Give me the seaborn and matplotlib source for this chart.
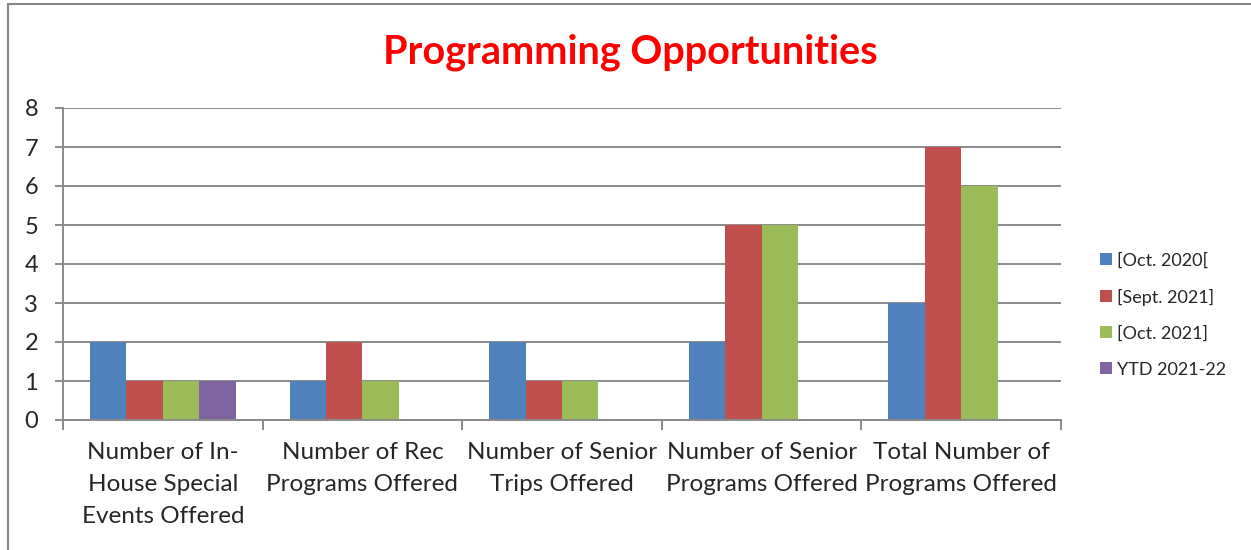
import numpy as np
import pandas as pd
import matplotlib.pyplot as plt
import seaborn as sns
from matplotlib.patches import Rectangle

categories = [
    "Number of In-\nHouse Special\nEvents Offered",
    "Number of Rec\nPrograms Offered",
    "Number of Senior\nTrips Offered",
    "Number of Senior\nPrograms Offered",
    "Total Number of\nPrograms Offered",
]
series = ["[Oct. 2020[", "[Sept. 2021]", "[Oct. 2021]", "YTD 2021-22"]
oct_2020 = [2, 1, 2, 2, 3]
sept_2021 = [1, 2, 1, 5, 7]
oct_2021 = [1, 1, 1, 5, 6]
ytd_2021_22 = [1, np.nan, np.nan, np.nan, np.nan]
colors = ["#4F81BD", "#C0504D", "#9BBB59", "#8064A2"]

rows = []
for name, vals in zip(series, [oct_2020, sept_2021, oct_2021, ytd_2021_22]):
    for cat, v in zip(categories, vals):
        rows.append({"category": cat, "series": name, "value": v})
df = pd.DataFrame(rows).dropna()

sns.set_style("white")
plt.rcParams['font.family'] = ['Lato', 'DejaVu Sans']

fig = plt.figure(figsize=(12.51, 5.5), dpi=100)
ax = fig.add_axes([63 / 1251, 1 - 420 / 550, (1061 - 63) / 1251, (420 - 108) / 550])

sns.barplot(data=df, x="category", y="value", hue="series", order=categories,
            hue_order=series, palette=colors, width=0.73, linewidth=0,
            saturation=1, ax=ax, legend=True)

ax.set_ylim(0, 8)
ax.set_xlim(-0.5, 4.5)
ax.set_yticks(range(0, 9))
ax.yaxis.grid(True, color="#8a8a8a", linewidth=1.4)
ax.set_axisbelow(True)
ax.set_xlabel("")
ax.set_ylabel("")

for s in ["top", "right"]:
    ax.spines[s].set_visible(False)
for s in ["left", "bottom"]:
    ax.spines[s].set_color("#8a8a8a")
    ax.spines[s].set_linewidth(1.4)

ax.tick_params(axis="y", length=6, width=1.4, color="#8a8a8a", direction="out",
               labelsize=17, pad=12, left=True)
ax.tick_params(axis="x", which="major", length=0, labelsize=17.5, pad=16)
for lbl in ax.get_xticklabels():
    lbl.set_linespacing(1.65)
ax.set_xticks(np.arange(-0.5, 5, 1), minor=True)
ax.tick_params(axis="x", which="minor", length=7, width=1.4, color="#8a8a8a",
               direction="out", bottom=True)

handles, labels = ax.get_legend_handles_labels()
ax.get_legend().remove()
fig.legend(handles, labels, loc="center left", bbox_to_anchor=(1100 / 1251, 1 - 315 / 550),
           frameon=False, fontsize=13, handlelength=0.65, handleheight=0.65,
           handletextpad=0.3, labelspacing=1.1, borderpad=0, borderaxespad=0)

fig.text(630 / 1251, 1 - 52 / 550, "Programming Opportunities", color="#FF0000",
         fontsize=28.5, fontweight="bold", ha="center", va="center")

fig.add_artist(Rectangle((8 / 1251, -0.1), 1.2, 1 - 4 / 550 + 0.1,
                         transform=fig.transFigure, fill=False,
                         edgecolor="#868686", linewidth=1.5, clip_on=False))

fig.savefig("out.png", dpi=100)
